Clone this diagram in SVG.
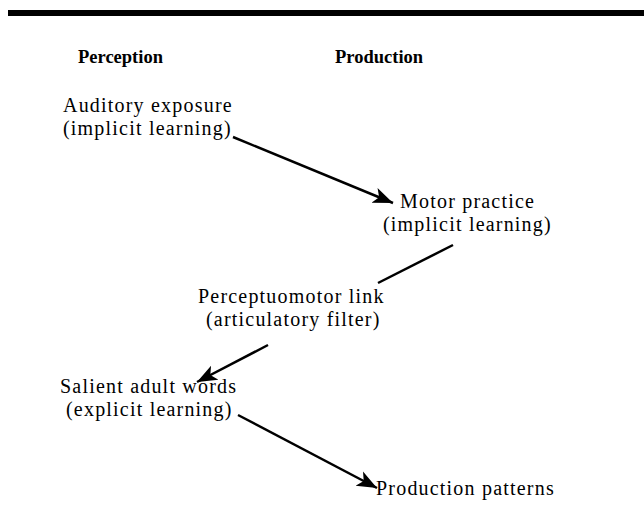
<svg xmlns="http://www.w3.org/2000/svg" width="644" height="506" viewBox="0 0 644 506">
  <defs>
    <style>
      .h { font-family: "Liberation Serif", "Times New Roman", serif; font-weight: bold; font-size: 18.5px; fill: #000; }
      .t { font-family: "Liberation Serif", "Times New Roman", serif; font-size: 20px; letter-spacing: 1.2px; fill: #000; }
      .c { stroke: #000; stroke-width: 2.5; fill: none; }
    </style>
    <marker id="ah" markerUnits="userSpaceOnUse" markerWidth="22" markerHeight="18" refX="20" refY="8" orient="auto" viewBox="0 0 22 16">
      <path d="M0,0 L20,8 L0,16 L5,8 Z" fill="#000"/>
    </marker>
  </defs>
  <rect x="0" y="0" width="644" height="506" fill="#fff"/>
  <rect id="topbar" x="8" y="10" width="636" height="6" fill="#000"/>

  <g id="headings">
    <text class="h" x="78" y="63">Perception</text>
    <text class="h" x="335" y="63">Production</text>
  </g>

  <g id="auditory">
    <text class="t" x="63" y="112">Auditory exposure</text>
    <text class="t" x="63" y="135">(implicit learning)</text>
  </g>
  <g id="motor">
    <text class="t" x="400" y="208">Motor practice</text>
    <text class="t" x="383" y="231">(implicit learning)</text>
  </g>
  <g id="perceptuomotor">
    <text class="t" x="198" y="303">Perceptuomotor link</text>
    <text class="t" x="206" y="326">(articulatory filter)</text>
  </g>
  <g id="salient">
    <text class="t" x="60" y="393">Salient adult words</text>
    <text class="t" x="66" y="416">(explicit learning)</text>
  </g>
  <g id="patterns">
    <text class="t" x="376" y="495">Production patterns</text>
  </g>

  <g id="connectors">
    <line class="c" x1="233" y1="137" x2="393" y2="203" marker-end="url(#ah)"/>
    <line class="c" x1="453" y1="245" x2="378" y2="283"/>
    <line class="c" x1="268" y1="345" x2="197" y2="382" marker-end="url(#ah)"/>
    <line class="c" x1="238" y1="415" x2="377" y2="488" marker-end="url(#ah)"/>
  </g>
</svg>
